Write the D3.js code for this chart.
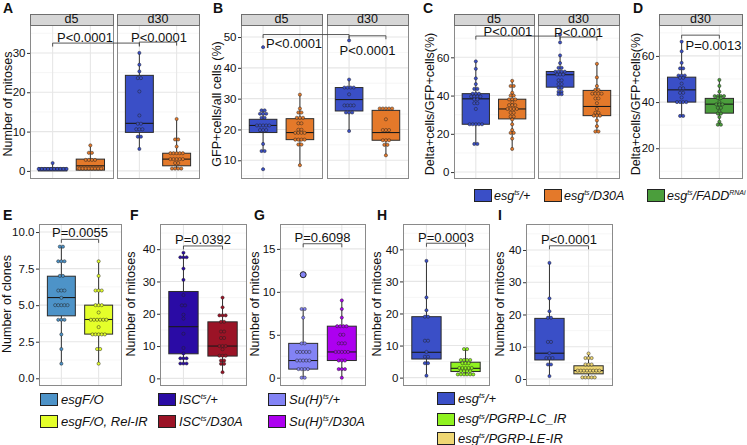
<!DOCTYPE html>
<html><head><meta charset="utf-8">
<script src="https://cdn.jsdelivr.net/npm/d3@7/dist/d3.min.js"></script>
<style>
body{margin:0;background:#fff}
svg{display:block}
text{font-family:"Liberation Sans",Arial,Helvetica,sans-serif;fill:#111}
</style>
</head><body>
<svg id="chart" width="747" height="445"></svg>
<script>
// ---------------- DATA ----------------
const topGroups = ["esg^{ts}/+", "esg^{ts}/D30A", "esg^{ts}/FADD^{RNAi}"];
const topColors = ["#3a4fc7", "#e4792a", "#4b9e3c"];
const facetsTop = ["d5", "d30"];

// box stats: [facet, group, min, q1, median, q3, max]
const boxA = [
  ["d5", topGroups[0], 0, 0, 0.4, 0.8, 2],
  ["d5", topGroups[1], 0.2, 0.2, 1.3, 3.0, 6.5],
  ["d30", topGroups[0], 5.6, 9.8, 12.1, 24.3, 30],
  ["d30", topGroups[1], 0.6, 1.3, 3.0, 4.5, 13.2]
];
// dots: [facet, group, [[value, count], ...]]
const dotsA = [
  ["d5", topGroups[0], [[0.5,10],[2,1]]],
  ["d5", topGroups[1], [[0.6,8],[2.8,4],[4.6,2],[6.5,1]]],
  ["d30", topGroups[0], [[30,1],[27,1],[25.3,1],[23.6,2],[20.2,1],[14.1,1],[12,2],[10.6,3],[8.7,2],[5.6,1]]],
  ["d30", topGroups[1], [[13.2,1],[8,2],[6.2,1],[4.5,5],[3,5],[2,2],[0.6,4]]]
];
const boxB = [
  ["d5", topGroups[0], 13, 19, 21.3, 23.3, 26.2],
  ["d5", topGroups[1], 8.4, 16.7, 19, 23.5, 31.3],
  ["d30", topGroups[0], 19.5, 26, 29.7, 33.6, 36.2],
  ["d30", topGroups[1], 11.6, 16.5, 19, 26.2, 26.8]
];
const dotsB = [
  ["d5", topGroups[0], [[46.7,1],[26.2,2],[25.1,3],[23.8,2],[21.3,5],[19.8,3],[15.3,1],[13,2],[7.1,1]]],
  ["d5", topGroups[1], [[31.3,1],[26.8,1],[25.5,2],[23.8,3],[22,2],[19.9,2],[18.9,4],[16.7,4],[15.1,2],[8.4,1]]],
  ["d30", topGroups[0], [[48.9,1],[36.2,1],[33.6,4],[31.4,1],[27.8,4],[25.5,3],[19.5,1]]],
  ["d30", topGroups[1], [[26.8,5],[23.3,1],[19.8,3],[16.5,3],[15,2],[11.6,1]]]
];
const boxC = [
  ["d5", topGroups[0], 14.7, 25, 38.3, 41, 57.9],
  ["d5", topGroups[1], 12.1, 27.8, 33, 38.1, 47.7],
  ["d30", topGroups[0], 40.7, 44.4, 50.9, 52.6, 61],
  ["d30", topGroups[1], 21.2, 29.5, 34.3, 42.7, 56.6]
];
const dotsC = [
  ["d5", topGroups[0], [[57.9,1],[54,1],[49,1],[46,1],[43.5,2],[41,3],[39.5,4],[38,2],[36,2],[33,1],[25,5],[14.7,2]]],
  ["d5", topGroups[1], [[47.7,1],[45,2],[41.5,1],[40,2],[38,3],[36.5,1],[35,3],[33,4],[31,2],[29,2],[27.5,1],[25,1],[22,1],[20.5,2],[17.5,1],[12.1,1]]],
  ["d30", topGroups[0], [[71.9,1],[67.8,1],[61,1],[57,1],[54.5,2],[52.5,4],[51,3],[48,2],[46,2],[44,2],[42,2],[40.7,2]]],
  ["d30", topGroups[1], [[56.6,1],[49.5,1],[45,1],[43,2],[41,4],[38.5,2],[36,1],[33,1],[31,2],[29.5,3],[27,1],[24,1],[21.2,2]]]
];
const boxD = [
  ["d30", topGroups[0], 33.5, 40, 45.3, 50.8, 66.2],
  ["d30", topGroups[2], 30.2, 35.2, 39.1, 41.6, 49.6]
];
const dotsD = [
  ["d30", topGroups[0], [[66.2,1],[62,1],[57,1],[54.6,2],[51.5,3],[50.5,2],[48,1],[46,2],[44,2],[42,1],[40,4],[34,2]]],
  ["d30", topGroups[2], [[49.6,1],[47,1],[44.5,1],[42.6,4],[41.7,2],[40,1],[39,3],[37.5,2],[36,1],[35,2],[33.5,1],[31.5,1],[30.2,2]]]
];

const groupsE = ["esgF/O", "esgF/O, Rel-IR"];
const colorsE = ["#4d93c8", "#e4ff2a"];
const boxE = [["all", groupsE[0], 1, 4.27, 5.52, 6.98, 9], ["all", groupsE[1], 1, 3.02, 4.02, 5.0, 8]];
const dotsE = [
  ["all", groupsE[0], [[9,2],[8,3],[7,2],[6,3],[5.5,1],[5,5],[4,3],[3,1],[2,1],[1,1]]],
  ["all", groupsE[1], [[8,1],[7,1],[6,3],[5,3],[4.5,1],[4,6],[3.5,1],[3,5],[2,2],[1,1]]]
];
const groupsF = ["ISC^{ts}/+", "ISC^{ts}/D30A"];
const colorsF = ["#2a0ba5", "#9b1326"];
const boxF = [["all", groupsF[0], 4.5, 7.6, 16, 26.9, 38.9], ["all", groupsF[1], 1.9, 6.9, 10, 17.5, 25]];
const dotsF = [
  ["all", groupsF[0], [[38.9,1],[37.5,3],[34,1],[30.5,1],[25.8,1],[22.6,2],[19.7,1],[18.5,1],[13.8,1],[9.4,1],[7.7,1],[6.2,3],[4.6,3]]],
  ["all", groupsF[1], [[25,1],[22,1],[19.5,3],[17.5,2],[14.5,2],[12.5,2],[10,3],[9,1],[7,3],[5.5,2],[4.5,2],[1.9,1]]]
];
const groupsG = ["Su(H)^{ts}/+", "Su(H)^{ts}/D30A"];
const colorsG = ["#8383f5", "#ad00f0"];
const boxG = [["all", groupsG[0], 0, 1, 2, 4, 8], ["all", groupsG[1], 0, 2, 3, 6, 9]];
const dotsG = [
  ["all", groupsG[0], [[8,2],[7,1],[4,2],[3,5],[2,5],[1,4],[0,2]]],
  ["all", groupsG[1], [[9,1],[8,1],[7,1],[6,4],[5,2],[4,3],[3,5],[2,3],[1,3],[0,1]]]
];
const outliersG = [["all", groupsG[0], 12]];
const groupsHI = ["esg^{ts}/+", "esg^{ts}/PGRP-LC_IR", "esg^{ts}/PGRP-LE-IR"];
const colorsHI = ["#3a4fc7", "#8ff21f", "#efd773"];
const boxH = [["all", groupsHI[0], 0.6, 5.8, 7.9, 19, 36.4], ["all", groupsHI[1], 1, 1.9, 2.9, 4.8, 8.9]];
const dotsH = [
  ["all", groupsHI[0], [[36.4,1],[25,1],[21,1],[19,2],[11.5,2],[8,1],[6.5,2],[4.5,2],[0.6,1]]],
  ["all", groupsHI[1], [[8.9,2],[5.5,4],[4.5,3],[3,5],[2,4],[1,6]]]
];
const boxI = [["all", groupsHI[0], 0.9, 5.9, 8, 18.8, 36], ["all", groupsHI[2], 0.2, 1.6, 2.6, 4.1, 7.9]];
const dotsI = [
  ["all", groupsHI[0], [[36,1],[25,1],[21,1],[19,2],[11.5,2],[8,1],[6.5,3],[4.5,2],[0.9,1]]],
  ["all", groupsHI[2], [[7.9,1],[6.5,3],[4.5,3],[2.6,8],[0.5,5]]]
];

// y ticks
const ticksA = [0, 10, 20, 30];
const ticksB = [10, 20, 30, 40, 50];
const ticksC = [0, 20, 40, 60];
const ticksD = [20, 40, 60];
const ticksE = [0, 2.5, 5, 7.5, 10];
const ticksF = [0, 10, 20, 30, 40];
const ticksG = [0, 5, 10, 15];
const ticksH = [0, 10, 20, 30, 40];
const ticksI = [0, 10, 20, 30, 40];

// brackets: [facet1, group1, facet2, group2, y value, label]
const brA = [["d5", topGroups[0], "d30", topGroups[0], 32.5, "P<0.0001"], ["d30", topGroups[0], "d30", topGroups[1], 32.75, "P<0.0001"]];
const brB = [["d5", topGroups[0], "d30", topGroups[0], 50.8, "P<0.0001"], ["d30", topGroups[0], "d30", topGroups[1], 50.4, "P<0.0001"]];
const brC = [["d5", topGroups[0], "d30", topGroups[0], 71.1, "P<0.001"], ["d30", topGroups[0], "d30", topGroups[1], 70.6, "P<0.001"]];
const brD = [["d30", topGroups[0], "d30", topGroups[2], 69.0, "P=0.0013"]];
const brE = [["all", groupsE[0], "all", groupsE[1], 9.5, "P=0.0055"]];
const brF = [["all", groupsF[0], "all", groupsF[1], 41.0, "P=0.0392"]];
const brG = [["all", groupsG[0], "all", groupsG[1], 15.6, "P=0.6098"]];
const brH = [["all", groupsHI[0], "all", groupsHI[1], 41.9, "P=0.0003"]];
const brI = [["all", groupsHI[0], "all", groupsHI[2], 41.3, "P<0.0001"]];

// ---------------- DRAWING ----------------
const svg = d3.select("#chart");
const crisp = v => Math.round(v) + 0.5;

function richText(sel, str, supSize) {
  const parts = str.split(/(\^\{[^}]*\})/).filter(s => s.length);
  let raised = false;
  parts.forEach(p => {
    if (p.startsWith("^{")) {
      sel.append("tspan").attr("font-size", supSize).attr("dy", -4.5).text(p.slice(2, -1));
      raised = true;
    } else {
      const t = sel.append("tspan").text(p);
      if (raised) { t.attr("dy", 4.5); raised = false; }
    }
  });
}

function drawPanel(P) {
  const y = d3.scaleLinear().domain(P.domain).range([P.y1, P.y0]);
  const xs = {};
  const colorOf = d3.scaleOrdinal().domain(P.allGroups).range(P.allColors);
  const tstep = P.ticks[1] - P.ticks[0];
  const minor = [];
  for (let v = P.ticks[0] - tstep / 2; v <= P.domain[1]; v += tstep) if (v >= P.domain[0]) minor.push(v);

  P.facets.forEach(f => {
    const x = d3.scalePoint().domain(P.cats).range([f.x0, f.x1]).padding(0.6);
    xs[f.name] = x;
    const g = svg.append("g");
    g.append("rect").attr("x", f.x0).attr("y", P.y0).attr("width", f.x1 - f.x0).attr("height", P.y1 - P.y0).attr("fill", "#fff");
    g.selectAll(".mn").data(minor).join("line")
      .attr("x1", f.x0).attr("x2", f.x1).attr("y1", d => y(d)).attr("y2", d => y(d))
      .attr("stroke", "#f2f2f2").attr("stroke-width", 0.7);
    g.selectAll(".mj").data(P.ticks).join("line")
      .attr("x1", f.x0).attr("x2", f.x1).attr("y1", d => y(d)).attr("y2", d => y(d))
      .attr("stroke", "#e6e6e6").attr("stroke-width", 1.1);
    g.selectAll(".vg").data(P.cats).join("line")
      .attr("x1", d => x(d)).attr("x2", d => x(d)).attr("y1", P.y0).attr("y2", P.y1)
      .attr("stroke", "#e6e6e6").attr("stroke-width", 1.1);

    const bw = x.step() * 0.75;
    P.boxes.filter(b => b[0] === f.name).forEach(b => {
      const cx = x(b[1]);
      g.append("line").attr("x1", cx).attr("x2", cx).attr("y1", y(b[6])).attr("y2", y(b[5])).attr("stroke", "#333").attr("stroke-width", 1);
      g.append("line").attr("x1", cx).attr("x2", cx).attr("y1", y(b[3])).attr("y2", y(b[2])).attr("stroke", "#333").attr("stroke-width", 1);
      g.append("rect").attr("x", cx - bw / 2).attr("y", y(b[5])).attr("width", bw)
        .attr("height", Math.max(1, y(b[3]) - y(b[5])))
        .attr("fill", colorOf(b[1])).attr("stroke", "#2b2b2b").attr("stroke-width", 1);
      g.append("line").attr("x1", cx - bw / 2).attr("x2", cx + bw / 2).attr("y1", y(b[4])).attr("y2", y(b[4]))
        .attr("stroke", "#1a1a1a").attr("stroke-width", 1.1);
    });
    const spacing = 3.1;
    P.dots.filter(d => d[0] === f.name).forEach(d => {
      const cx = x(d[1]);
      d[2].forEach(([v, n]) => {
        for (let i = 0; i < n; i++) {
          g.append("circle").attr("cx", cx + (i - (n - 1) / 2) * spacing).attr("cy", y(v)).attr("r", 1.6)
            .attr("fill", colorOf(d[1])).attr("stroke", "#222").attr("stroke-width", 0.6).attr("stroke-opacity", 0.8);
        }
      });
    });
    (P.outliers || []).filter(o => o[0] === f.name).forEach(o => {
      g.append("circle").attr("cx", x(o[1])).attr("cy", y(o[2])).attr("r", 3)
        .attr("fill", colorOf(o[1])).attr("stroke", "#222").attr("stroke-width", 1);
    });
    g.append("rect").attr("x", crisp(f.x0)).attr("y", crisp(P.y0)).attr("width", Math.round(f.x1 - f.x0)).attr("height", Math.round(P.y1 - P.y0))
      .attr("fill", "none").attr("stroke", "#8a8a8a").attr("stroke-width", 1);
    if (P.strip) {
      g.append("rect").attr("x", crisp(f.x0)).attr("y", crisp(P.strip[0])).attr("width", Math.round(f.x1 - f.x0)).attr("height", Math.round(P.strip[1] - P.strip[0]))
        .attr("fill", "#d6d6d6").attr("stroke", "#6f6f6f").attr("stroke-width", 1);
      g.append("text").attr("x", (f.x0 + f.x1) / 2).attr("y", P.strip[1] - 2.5).attr("text-anchor", "middle")
        .attr("font-size", 12.5).text(f.name);
    }
  });

  const x0 = P.facets[0].x0;
  const ax = svg.append("g").attr("transform", `translate(${x0},0)`)
    .call(d3.axisLeft(y).tickValues(P.ticks).tickSize(3).tickPadding(1.5).tickFormat(P.fmt || d3.format("d")));
  ax.select(".domain").remove();
  ax.selectAll(".tick line").attr("stroke", "#333");
  ax.selectAll(".tick text").attr("font-size", 11.5).attr("fill", "#1a1a1a")
    .attr("font-family", '"Liberation Sans",Arial,sans-serif');

  P.brackets.forEach((b, i) => {
    const xa = xs[b[0]](b[1]), xb = xs[b[2]](b[3]);
    const yy = y(b[4]);
    const off = P.labelOff[i];
    svg.append("path").attr("d", `M${xa},${yy + 3.5}V${yy}H${xb}V${yy + 3.5}`)
      .attr("fill", "none").attr("stroke", "#444").attr("stroke-width", 0.9);
    svg.append("text").attr("x", (xa + xb) / 2 + off[0]).attr("y", yy + off[1])
      .attr("text-anchor", "middle").attr("font-size", 13).text(b[5]);
  });

  svg.append("text").attr("transform", `translate(${P.title[1]},${P.title[2]}) rotate(-90)`)
    .attr("text-anchor", "middle").attr("dominant-baseline", "central").attr("font-size", 12.5).text(P.title[0]);
  svg.append("text").attr("x", P.letter[1]).attr("y", P.letter[2]).attr("font-size", 14)
    .attr("font-weight", "bold").text(P.letter[0]);
}

function legend(groups, colors, keys, fs, gap, sup) {
  groups.forEach((gname, i) => {
    const k = keys[i];
    svg.append("rect").attr("x", crisp(k[0])).attr("y", crisp(k[1] - 6)).attr("width", 17).attr("height", 12)
      .attr("fill", colors[i]).attr("stroke", "#222").attr("stroke-width", 1);
    const t = svg.append("text").attr("x", k[0] + gap).attr("y", k[1] + 4.5).attr("font-size", fs).attr("font-style", "italic");
    richText(t, gname, sup);
  });
}

const topStrip = [14, 25];
drawPanel({facets: [{name: "d5", x0: 30, x1: 113}, {name: "d30", x0: 117, x1: 199}], y0: 25, y1: 178, strip: topStrip,
  domain: [-1.8, 37.1], ticks: ticksA, cats: [topGroups[0], topGroups[1]], allGroups: topGroups, allColors: topColors,
  boxes: boxA, dots: dotsA, brackets: brA, labelOff: [[-11, -1.5], [1, -0.5]],
  title: ["Number of mitoses", 8, 104], letter: ["A", 3, 13]});
drawPanel({facets: [{name: "d5", x0: 241, x1: 322}, {name: "d30", x0: 327, x1: 408}], y0: 25, y1: 178, strip: topStrip,
  domain: [4.25, 53.9], ticks: ticksB, cats: [topGroups[0], topGroups[1]], allGroups: topGroups, allColors: topColors,
  boxes: boxB, dots: dotsB, brackets: brB, labelOff: [[-12, 13.7], [0, 19]],
  title: ["GFP+cells/all cells (%)", 217, 104], letter: ["B", 213, 13]});
drawPanel({facets: [{name: "d5", x0: 454, x1: 534}, {name: "d30", x0: 538, x1: 619}], y0: 25, y1: 178, strip: topStrip,
  domain: [-3.1, 76.9], ticks: ticksC, cats: [topGroups[0], topGroups[1]], allGroups: topGroups, allColors: topColors,
  boxes: boxC, dots: dotsC, brackets: brC, labelOff: [[-10, 0], [0, -0.5]],
  title: ["Delta+cells/GFP+cells(%)", 430, 104], letter: ["C", 423, 13]});
drawPanel({facets: [{name: "d30", x0: 659, x1: 742}], y0: 25, y1: 178, strip: topStrip,
  domain: [7.1, 73.4], ticks: ticksD, cats: [topGroups[0], topGroups[2]], allGroups: topGroups, allColors: topColors,
  boxes: boxD, dots: dotsD, brackets: brD, labelOff: [[13, 15]],
  title: ["Delta+cells/GFP+cells(%)", 636, 104], letter: ["D", 633, 13]});

legend(topGroups, topColors, [[474, 195], [544, 195], [647, 195]], 12.5, 20, 7);

const r2 = {y0: 224, y1: 385};
drawPanel({facets: [{name: "all", x0: 39, x1: 121}], y0: r2.y0, y1: r2.y1,
  domain: [-0.46, 10.55], ticks: ticksE, fmt: d3.format(".1f"), cats: groupsE, allGroups: groupsE, allColors: colorsE,
  boxes: boxE, dots: dotsE, brackets: brE, labelOff: [[0, -2.3]],
  title: ["Number of clones", 7, 304], letter: ["E", 3, 220]});
drawPanel({facets: [{name: "all", x0: 160, x1: 246}], y0: r2.y0, y1: r2.y1,
  domain: [-2.06, 47.8], ticks: ticksF, cats: groupsF, allGroups: groupsF, allColors: colorsF,
  boxes: boxF, dots: dotsF, brackets: brF, labelOff: [[0, -2]],
  title: ["Number of mitoses", 131, 304], letter: ["F", 130, 220]});
drawPanel({facets: [{name: "all", x0: 280, x1: 365}], y0: r2.y0, y1: r2.y1,
  domain: [-0.85, 17.9], ticks: ticksG, cats: groupsG, allGroups: groupsG, allColors: colorsG,
  boxes: boxG, dots: dotsG, outliers: outliersG, brackets: brG, labelOff: [[0, -2]],
  title: ["Number of mitoses", 255, 304], letter: ["G", 254, 220]});
drawPanel({facets: [{name: "all", x0: 403, x1: 489}], y0: r2.y0, y1: r2.y1,
  domain: [-2.3, 47.9], ticks: ticksH, cats: [groupsHI[0], groupsHI[1]], allGroups: groupsHI, allColors: colorsHI,
  boxes: boxH, dots: dotsH, brackets: brH, labelOff: [[0, -1.5]],
  title: ["Number of mitoses", 377, 304], letter: ["H", 377, 220]});
drawPanel({facets: [{name: "all", x0: 526, x1: 612}], y0: r2.y0, y1: r2.y1,
  domain: [-1.86, 48.06], ticks: ticksI, cats: [groupsHI[0], groupsHI[2]], allGroups: groupsHI, allColors: colorsHI,
  boxes: boxI, dots: dotsI, brackets: brI, labelOff: [[0, -2]],
  title: ["Number of mitoses", 500, 304], letter: ["I", 498, 220]});

legend(groupsE, colorsE, [[40, 399], [40, 421]], 13, 21, 7.5);
legend(groupsF, colorsF, [[158, 399], [158, 421]], 13, 21, 7.5);
legend(groupsG, colorsG, [[268, 399], [268, 421]], 13, 21, 7.5);
legend(groupsHI, colorsHI, [[437, 398], [437, 418.5], [437, 438]], 13, 21, 7.5);
</script>
</body></html>
